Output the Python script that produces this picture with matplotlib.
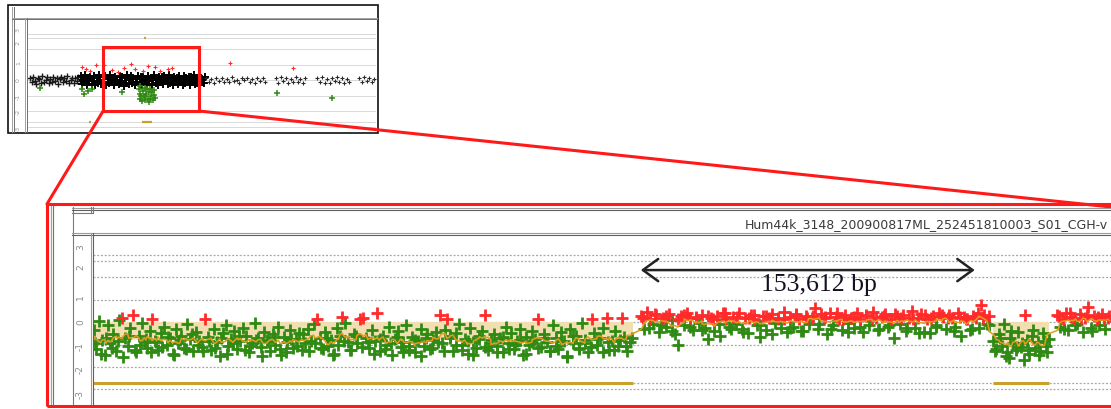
import matplotlib
matplotlib.use('Agg')
import matplotlib.pyplot as plt
from matplotlib.lines import Line2D
from matplotlib.patches import Rectangle, ConnectionPatch
import matplotlib.transforms as mtransforms
import pandas as pd

#----- DATA -----

# zoomed region: probe positions (kb from left edge) and log ratios
# first loss segment
a_kb=[0.3,1.6,2.9,4.1,5.5,6.8,8.0,9.4,10.7,12.0,
      13.3,14.6,15.9,17.1,18.4,19.8,21.0,22.4,23.7,25.0,
      26.2,27.1,28.5,29.9,31.2,32.6,33.9,35.3,36.6,38.0,
      39.3,40.7,42.0,43.4,44.7,46.1,47.4,48.8,50.1,51.5,
      52.9,54.2,55.6,56.9,58.3,59.6,61.0,62.3,63.7,65.0,
      66.4,67.7,69.1,70.4,71.8,73.1,74.5,75.8,77.2,78.5,
      79.9,81.2,82.6,83.9,85.3,86.6,88.0,89.3,90.7,92.0,
      93.4,94.7,96.1,97.4,98.8,100.1,101.5,103.0,104.2,105.6,
      106.9,108.3,109.6,111.0,112.3,113.6,114.5,116.0,117.3,118.7,
      120.0,121.4,122.8,124.2,125.5,126.9,128.2,129.6,130.6,132.0,
      133.4,134.7,136.1,137.4,138.8,140.1,141.5,142.8,144.2,145.5,
      146.9,148.2,149.6,150.9,152.3,153.6,155.0,156.3,157.7,159.6,
      160.5,161.8,162.8,164.2,165.5,166.9,168.2,169.6,170.9,172.3,
      173.6,175.0,176.3,177.7,179.0,180.3,181.7,183.0,184.4,185.7,
      187.1,188.4,189.8,191.1,192.5,193.8,195.2,196.5,197.9,199.2,
      200.6,201.9,203.3,204.7,206.0,207.4,208.7,210.1,211.4,212.8,
      214.1,215.5,216.8,218.2,219.5,220.9,222.2,223.6,224.9,226.3,
      227.6,229.5,230.6,232.0,233.3,234.7,236.4,237.6,238.9,240.3,
      241.6,243.3,244.4,245.7,247.1,
      1.0,3.5,5.9,8.7,11.3,13.9,16.5,19.1,21.7,24.3,
      26.9,29.2,31.9,34.6,37.3,40.0,42.7,45.4,48.1,50.8,
      53.5,56.2,58.9,61.6,64.3,67.0,69.7,72.4,75.1,77.8,
      80.5,83.2,85.9,88.6,91.3,94.0,96.7,99.4,102.1,104.8,
      107.5,110.2,112.9,115.6,118.3,121.0,123.7,126.4,129.1,131.8,
      134.5,137.2,139.9,142.6,145.3,148.0,150.7,153.4,156.1,158.8,
      161.5,164.2,166.9,169.6,172.3,175.0,177.7,180.4,183.1,185.8,
      188.5,191.2,193.9,196.6,199.3,202.0,204.7,207.4,210.1,212.8,
      215.5,218.2,220.9,223.6,226.3,229.0,231.7,234.4,237.1,239.8,
      242.5,245.2,247.9]
a_ratio=[-0.35,-1.20,0.05,-0.80,-1.45,-0.15,-0.95,-0.55,-1.30,0.08,
         0.20,-0.70,-1.05,-0.25,0.30,-1.35,-0.60,-0.05,-0.90,-1.15,
         -0.40,0.14,-0.85,-1.25,-0.50,-0.20,-1.00,-0.70,-1.40,-0.30,
         -0.95,-0.60,-1.15,-0.10,-0.75,-1.30,-0.45,-0.85,-1.10,0.13,
         -0.65,-1.25,-0.30,-0.90,-1.50,-0.50,-0.15,-1.05,-0.75,-0.40,
         -1.20,-0.85,-0.25,-0.60,-1.35,-0.95,-0.05,-0.70,-1.10,-0.45,
         -0.80,-1.30,-0.55,-1.00,-0.20,-1.45,-0.65,-0.90,-0.35,-1.15,
         -0.75,-0.50,-1.25,-0.95,-0.30,-0.85,-0.10,0.12,-0.70,-1.20,
         -0.45,-1.05,-0.80,-1.40,-0.25,-0.60,0.22,-0.05,-0.90,-1.25,
         -0.55,-0.95,0.12,0.18,-0.70,-1.15,-0.35,-0.85,0.40,-1.30,
         -0.60,-1.00,-0.20,-1.45,-0.75,-0.40,-1.10,-0.90,-0.15,-1.25,
         -0.65,-1.35,-0.85,-0.30,-1.05,-0.55,-1.20,-0.80,-0.45,0.30,
         -0.95,-0.35,0.12,-0.70,-1.30,-0.50,-0.10,-1.00,-0.75,-1.40,
         -0.25,-0.90,-1.15,-0.60,-0.40,0.30,-1.25,-0.80,-0.55,-1.05,
         -0.70,-1.35,-0.20,-0.95,-0.50,-1.20,-0.85,-0.30,-1.45,-0.65,
         -1.00,-0.40,-0.75,0.13,-1.10,-0.55,-0.90,-1.30,-0.15,-0.70,
         -1.20,-0.45,-0.85,-1.50,-0.30,-0.95,-0.60,-1.15,-0.05,-0.80,
         -1.35,0.12,-0.50,-1.00,-0.70,-0.25,0.18,-1.25,-0.85,-0.40,
         -1.05,0.18,-0.65,-1.30,-0.90,
         -0.95,-1.40,-0.70,-1.15,-0.85,-1.55,-0.60,-1.25,-1.00,-0.75,
         -1.35,-0.90,-1.10,-0.65,-1.45,-0.80,-1.20,-0.55,-1.00,-1.30,
         -0.85,-1.15,-0.70,-1.40,-0.95,-0.60,-1.25,-1.05,-0.80,-1.50,
         -0.90,-0.65,-1.20,-1.35,-0.75,-1.05,-0.55,-1.30,-0.95,-1.15,
         -0.70,-1.45,-1.00,-0.85,-1.25,-0.60,-1.10,-0.90,-1.40,-0.75,
         -1.20,-0.95,-0.65,-1.35,-1.05,-0.80,-1.50,-0.70,-1.15,-0.90,
         -1.30,-0.60,-1.00,-1.25,-0.85,-1.45,-0.75,-1.10,-0.95,-1.35,
         -0.65,-1.20,-1.00,-0.80,-1.40,-0.90,-1.15,-0.70,-1.30,-1.05,
         -0.85,-1.55,-0.60,-1.20,-0.95,-1.10,-0.75,-1.35,-0.90,-1.25,
         -0.80,-1.05,-0.70]

# normal stretch
b_kb=[252.2,253.6,255.0,256.4,257.8,259.2,260.6,262.0,263.4,264.8,
      266.2,267.6,269.0,270.4,271.8,273.2,274.6,276.0,277.4,278.8,
      280.2,281.6,283.0,284.4,285.8,287.2,288.6,290.0,291.4,292.8,
      294.2,295.6,297.0,298.4,299.8,301.2,302.6,304.0,305.4,306.8,
      308.2,309.6,311.0,312.4,313.8,315.2,316.6,318.0,319.4,320.8,
      322.2,323.6,325.0,326.4,327.8,329.2,330.6,332.0,333.4,334.8,
      336.2,337.6,339.0,340.4,341.8,343.2,344.6,346.0,347.4,348.8,
      350.2,351.6,353.0,354.4,355.8,357.2,358.6,360.0,361.4,362.8,
      364.2,365.6,367.0,368.4,369.8,371.2,372.6,374.0,375.4,376.8,
      378.2,379.6,381.0,382.4,383.8,385.2,386.6,388.0,389.4,390.8,
      392.2,393.6,395.0,396.4,397.8,399.2,400.6,402.0,403.4,404.8,
      406.2,407.6,408.4,409.8,411.2,412.4,
      253.0,255.7,258.4,261.1,263.8,266.5,269.2,271.9,274.6,277.3,
      280.0,282.7,285.4,288.1,290.8,293.5,296.2,298.9,301.6,304.3,
      307.0,309.7,312.4,315.1,317.8,320.5,323.2,325.9,328.6,331.3,
      334.0,336.7,339.4,342.1,344.8,347.5,350.2,352.9,355.6,358.3,
      361.0,363.7,366.4,369.1,371.8,374.5,377.2,379.9,382.6,385.3,
      388.0,390.7,393.4,396.1,398.8,401.5,404.2,406.9,409.6,412.0]
b_ratio=[0.25,-0.30,0.45,0.15,-0.10,0.30,-0.45,0.20,-0.20,0.35,
         0.10,-0.55,-1.00,0.28,-0.15,0.40,0.18,-0.35,0.22,-0.05,
         0.32,-0.25,-0.75,0.16,-0.40,0.26,-0.60,0.38,0.12,-0.20,
         0.24,-0.10,0.42,-0.30,0.18,-0.50,0.30,0.14,-0.15,-0.65,
         0.28,-0.35,0.20,0.36,-0.05,0.15,-0.25,0.44,-0.45,0.22,
         -0.20,0.30,0.12,-0.40,0.26,-0.10,0.18,0.62,-0.30,0.34,
         0.16,-0.55,0.40,-0.15,0.24,0.14,-0.35,0.30,-0.05,0.20,
         -0.25,0.38,0.12,-0.45,0.28,-0.15,0.46,0.18,-0.30,0.22,
         0.34,-0.20,0.15,-0.70,0.26,-0.10,0.32,-0.40,0.20,0.48,
         -0.25,0.18,0.36,-0.45,0.14,-0.50,0.28,-0.15,0.40,0.22,
         -0.30,0.30,0.16,-0.20,0.42,-0.60,0.24,0.12,-0.35,0.28,
         0.18,-0.25,0.75,0.32,-0.10,0.26,
         0.20,-0.25,0.35,-0.15,0.28,-0.40,0.14,0.30,-0.20,0.18,
         -0.35,0.25,0.12,-0.10,0.38,-0.30,0.22,-0.45,0.16,0.32,
         -0.15,0.26,-0.55,0.20,0.14,-0.25,0.34,-0.40,0.18,0.28,
         -0.10,0.22,-0.30,0.40,0.15,-0.45,0.24,-0.20,0.30,0.12,
         -0.35,0.26,-0.15,0.36,0.20,-0.25,0.14,-0.50,0.30,0.18,
         -0.20,0.32,0.16,-0.40,0.24,0.12,-0.30,0.38,0.20,-0.15]

# second loss segment
c_kb=[414.2,415.5,416.8,418.0,419.3,420.6,421.8,423.1,424.4,425.6,
      426.9,428.2,428.7,429.5,430.7,432.0,433.3,434.5,435.8,437.1,438.3,439.6,
      414.8,417.4,419.9,422.4,425.0,427.5,430.1,432.6,435.2,437.7,439.0,421.2]
c_ratio=[-0.85,-1.20,-0.55,-1.05,-0.10,-1.35,-0.70,-0.95,-1.25,-0.45,
         -1.10,-1.70,0.30,-0.80,-1.40,-0.60,-1.15,-0.90,-1.30,-0.50,-1.05,-0.75,
         -1.30,-0.70,-1.50,-0.40,-1.10,-0.95,-1.25,-0.35,-1.45,-0.85,-1.35,-1.60]

# normal again at the right edge
d_kb=[443.5,444.8,446.1,447.4,448.7,450.0,451.3,452.6,453.9,455.2,
      456.5,457.8,459.1,460.4,461.7,463.0,464.3,465.6,466.9,
      444.2,446.8,449.3,451.9,454.5,457.1,459.7,462.3,464.9,467.5]
d_ratio=[0.30,-0.20,0.15,0.40,-0.35,0.22,0.12,-0.10,0.36,-0.45,
         0.20,0.65,-0.25,0.28,0.14,-0.15,0.34,-0.30,0.18,
         0.25,-0.30,0.38,-0.15,0.20,0.32,-0.40,0.22,0.12,0.28]

# aberration calls
calls_start=[0,414.0]
calls_end=[248.4,440.0]
calls_mean=[-0.78,-1.02]
call_level=-2.7

grid_levels=[3,2.7,2,1,0,-1,-2,-2.7,-3]
tick_pos=[3.33,2.44,1.11,0,-1.11,-2.13,-3.24]
tick_text=['3','2','1','0','-1','-2','-3']

span_start=252.0
span_bp=153612
span_label_kb=334
array_name='Hum44k_3148_200900817ML_252451810003_S01_CGH-v'

# whole view: probes (kb) and log ratios
w_left_kb=[10,18,25,33,40,48,55,63,70,78,86,93,101,108,116,124,131,139,146,154,
           162,169,177,185,192,200,208,215,223,231,238,246]
w_left_ratio=[0.10,-0.15,0.20,-0.05,-0.25,0.15,0.05,-0.20,0.25,-0.10,0.00,0.18,-0.22,0.08,-0.12,0.22,
              -0.05,0.12,-0.28,0.05,0.20,-0.15,0.10,-0.08,0.25,-0.20,0.02,0.15,-0.18,0.10,-0.05,0.20]
w_dense_kb=[256,262,268,274,280,286,292,298,304,310,316,322,328,334,340,346,352,358,364,370,
            376,382,388,394,400,406,412,418,424,430,436,442,448,454,460,466,472,478,484,490,
            496,502,508,514,520,526,532,538,544,550,556,562,568,574,580,586,592,598,604,610,
            616,622,628,634,640,646,652,658,664,670,676,682,688,694,700,706,712,718,724,730,
            736,742,748,754,760,766,772,778,784,790,796,802,808,814,820,826,832,838,844,850,
            856,862]
w_dense_ratio=[0.25,-0.28,0.03,-0.14,0.32,-0.35,0.10,-0.03,0.20,-0.25,
               -0.07,0.28,-0.32,0.14,-0.18,0.35,0.00,-0.28,0.18,-0.10,
               0.25,-0.35,0.07,-0.20,0.32,-0.03,0.14,-0.32,0.20,-0.14,
               0.03,-0.25,0.28,-0.07,0.18,-0.38,0.10,-0.18,0.32,-0.28,
               0.00,0.25,-0.20,0.14,-0.35,0.07,-0.10,0.28,-0.25,0.18,
               -0.32,0.20,-0.14,0.03,-0.28,0.25,-0.07,0.14,-0.35,0.10,
               0.32,-0.20,0.00,-0.32,0.20,-0.10,0.18,-0.28,0.28,-0.03,
               0.10,-0.25,0.32,-0.18,0.07,-0.35,0.20,-0.07,0.14,-0.28,
               0.25,-0.14,0.03,-0.32,0.28,-0.20,0.10,-0.03,0.20,-0.35,
               0.18,-0.10,0.32,-0.25,0.07,-0.18,0.25,-0.32,0.14,0.00,
               -0.20,0.18]
w_right_kb=[868,880,893,905,918,930,943,955,968,980,993,1005,1018,1030,1043,1055,1068,1080,1093,1105,
            1118,1130,1143,1155,1210,1220,1232,1244,1256,1268,1280,1292,1304,1316,1328,1340,1352,
            1410,1422,1434,1446,1458,1470,1482,1494,1506,1518,1530,1542,1554,1566,
            1615,1627,1639,1651,1663,1675,1687]
w_right_ratio=[0.10,-0.12,0.05,-0.18,0.15,-0.05,0.12,-0.15,0.08,-0.10,0.18,-0.08,0.02,-0.20,0.12,-0.02,
               0.15,-0.12,0.06,-0.16,0.10,-0.06,0.14,-0.10,0.12,-0.18,0.20,-0.05,0.15,-0.22,0.08,-0.12,
               0.18,-0.15,0.05,-0.20,0.12,0.15,-0.10,0.20,-0.18,0.05,-0.22,0.12,-0.08,0.18,-0.15,0.10,
               -0.20,0.06,-0.12,0.14,-0.10,0.18,-0.05,0.12,-0.15,0.08]
w_gain_kb=[263,283,302,330,370,410,439,470,500,522,560,585,620,644,680,702,985,1292]
w_gain_ratio=[0.85,0.70,0.60,0.95,1.00,0.65,0.55,0.80,1.05,0.70,0.60,0.90,0.85,0.60,0.70,0.75,1.10,0.75]
w_loss_kb=[58,263,275,290,310,458,1214,1482,
           540,544,548,552,556,560,564,568,572,576,580,584,588,592,596,600,604,608,612,616,620,546,570,594]
w_loss_ratio=[-0.50,-0.60,-0.90,-0.70,-0.55,-0.80,-0.85,-1.15,
              -0.60,-1.20,-0.40,-1.00,-1.35,-0.70,-1.10,-0.50,-1.30,-0.90,-0.60,-1.25,-0.80,-1.40,
              -0.55,-1.05,-0.75,-1.30,-0.95,-0.65,-1.15,-0.90,-1.00,-1.20]
w_calls_start=[297,556,566]
w_calls_end=[307,605,576]
w_calls_level=[-2.7,-2.7,2.7]
w_shade=[546,610,-0.75]
# zoomed window inside the whole view (kb)
zoom_from=366
zoom_width=468

#----- STYLE -----
W,H=1111,409
green='#2f8a14'
red='#ff2a2a'
orange='#e69a1e'
gold='#c9a02c'
tan='#f1dfb2'
gridc='#a8a8a8'

def fx(x): return x/W
def fy(y): return 1-y/H

def hline(y,x0,x1,c='#8a8a8a',lw=0.8):
    fig.add_artist(Line2D([fx(x0),fx(x1)],[fy(y),fy(y)],color=c,lw=lw))

def vline(x,y0,y1,c='#8a8a8a',lw=0.8):
    fig.add_artist(Line2D([fx(x),fx(x)],[fy(y0),fy(y1)],color=c,lw=lw))

fig=plt.figure(figsize=(W/100,H/100),dpi=100)
fig.patch.set_facecolor('white')

#----- ZOOMED PANEL -----
ax=fig.add_axes([fx(93),fy(405),fx(1111)-fx(93),fy(235)-fy(405)])
ax.set_xlim(0,468.3)
ax.set_ylim(-3.69,3.87)
ax.axis('off')
for lev in grid_levels:
    ax.axhline(lev,color=gridc,lw=0.9,ls=(0,(1.6,1.4)),zorder=0)

for s,e,m in zip(calls_start,calls_end,calls_mean):
    ax.fill_between([s,e],0,m,color=tan,lw=0,zorder=1)
    ax.plot([s,e],[call_level,call_level],color=gold,lw=2.2,solid_capstyle='butt',zorder=2)

probes=pd.DataFrame({'kb':a_kb+b_kb+c_kb+d_kb,'ratio':a_ratio+b_ratio+c_ratio+d_ratio}).sort_values('kb')
probes['avg']=probes['ratio'].rolling(7,center=True,min_periods=1).mean()
gain=probes[probes.ratio>0.1]
loss=probes[probes.ratio<=0.1]
ax.plot(loss.kb,loss.ratio,'+',color=green,ms=9,mew=2.0,ls='none',zorder=3)
ax.plot(gain.kb,gain.ratio,'+',color=red,ms=9,mew=2.0,ls='none',zorder=4)
ax.plot(probes.kb,probes.avg,color=orange,lw=1.1,zorder=5)

ax.annotate('',xy=(span_start+span_bp/1000,2.31),xytext=(span_start,2.31),
            arrowprops=dict(arrowstyle='<->,head_length=0.55,head_width=0.4',lw=1.8,color='#222222',
                            shrinkA=0,shrinkB=0,mutation_scale=20),zorder=6)
ax.text(span_label_kb,1.64,f'{span_bp:,} bp',fontsize=18.5,family='Liberation Serif',
        ha='center',va='center',color='#111122',zorder=6)

tr=mtransforms.blended_transform_factory(fig.transFigure,ax.transData)
for p,t in zip(tick_pos,tick_text):
    ax.text(fx(80.5),p,t,transform=tr,rotation=90,ha='center',va='center',fontsize=6.5,color='#8a8a8a')

# window chrome around the zoomed panel
fig.add_artist(Rectangle((fx(47),fy(406)),fx(1130)-fx(47),fy(204)-fy(406),transform=fig.transFigure,
                         fill=False,ec='#ff1a1a',lw=2.2,zorder=10))
vline(50.5,206,405,'#a0a0a0')
vline(52.5,206,405,'#707070')
vline(72.5,207,405,'#7a7a7a')
hline(207.5,72,1111,'#9a9a9a')
hline(209.5,72,1111,'#606060')
vline(90.5,207,213,'#7a7a7a')
vline(92.5,207,213,'#7a7a7a')
hline(213,72,92,'#7a7a7a')
hline(232.5,72,1111,'#9a9a9a')
hline(234.5,72,1111,'#606060')
vline(90.5,233,405,'#9a9a9a')
vline(92.5,233,405,'#606060')
fig.text(fx(745),fy(225),array_name,fontsize=9,color='#3a3a3a',ha='left',va='center')

#----- WHOLE VIEW -----
ai=fig.add_axes([fx(27),fy(131),fx(376)-fx(27),fy(19)-fy(131)])
ai.set_xlim(-5,1696)
ai.set_ylim(-3.29,3.94)
ai.axis('off')
for lev in grid_levels:
    ai.axhline(lev,color=gridc,lw=0.6,ls=(0,(1.2,1.2)),zorder=0)
ai.fill_between([w_shade[0],w_shade[1]],0,w_shade[2],color=tan,lw=0,zorder=1)
ai.plot(w_left_kb,w_left_ratio,'+',color='#1a1a1a',ms=4,mew=1,ls='none',zorder=2)
ai.plot(w_dense_kb,w_dense_ratio,'+',color='black',ms=5.5,mew=1.4,ls='none',zorder=2)
ai.plot(w_right_kb,w_right_ratio,'+',color='#2a2a2a',ms=3,mew=0.8,ls='none',zorder=2)
ai.plot(w_loss_kb,w_loss_ratio,'+',color=green,ms=4,mew=1.1,ls='none',zorder=3)
ai.plot(w_gain_kb,w_gain_ratio,'+',color=red,ms=3,mew=0.8,ls='none',zorder=3)
for s,e,l in zip(w_calls_start,w_calls_end,w_calls_level):
    ai.plot([s,e],[l,l],color=gold,lw=1.6,solid_capstyle='butt',zorder=3)

tri=mtransforms.blended_transform_factory(fig.transFigure,ai.transData)
for p,t in zip(tick_pos,tick_text):
    ai.text(fx(18.5),p*0.97,t,transform=tri,rotation=90,ha='center',va='center',fontsize=4.5,color='#999999')

fig.add_artist(Rectangle((fx(8),fy(133)),fx(378)-fx(8),fy(5)-fy(133),transform=fig.transFigure,
                         fill=False,ec='#111111',lw=1.2))
vline(12,7,132,'#a0a0a0',0.7)
vline(14,7,132,'#707070',0.7)
hline(17.5,12,377,'#a0a0a0',0.7)
hline(19,12,377,'#707070',0.7)
vline(25,18,132,'#a0a0a0',0.7)
vline(27,18,132,'#707070',0.7)

# zoom box and its connectors
ai.add_patch(Rectangle((zoom_from,-2.0),zoom_width,4.13,fill=False,ec='#ff1a1a',lw=2.2,clip_on=False,zorder=10))
fig.add_artist(ConnectionPatch(xyA=(zoom_from,-2.0),coordsA=ai.transData,xyB=(fx(47),fy(204)),
                               coordsB=fig.transFigure,color='#ff1a1a',lw=2.2))
fig.add_artist(ConnectionPatch(xyA=(zoom_from+zoom_width,-2.0),coordsA=ai.transData,xyB=(1.0,fy(207)),
                               coordsB=fig.transFigure,color='#ff1a1a',lw=2.2))

fig.savefig('out.png',dpi=100)
